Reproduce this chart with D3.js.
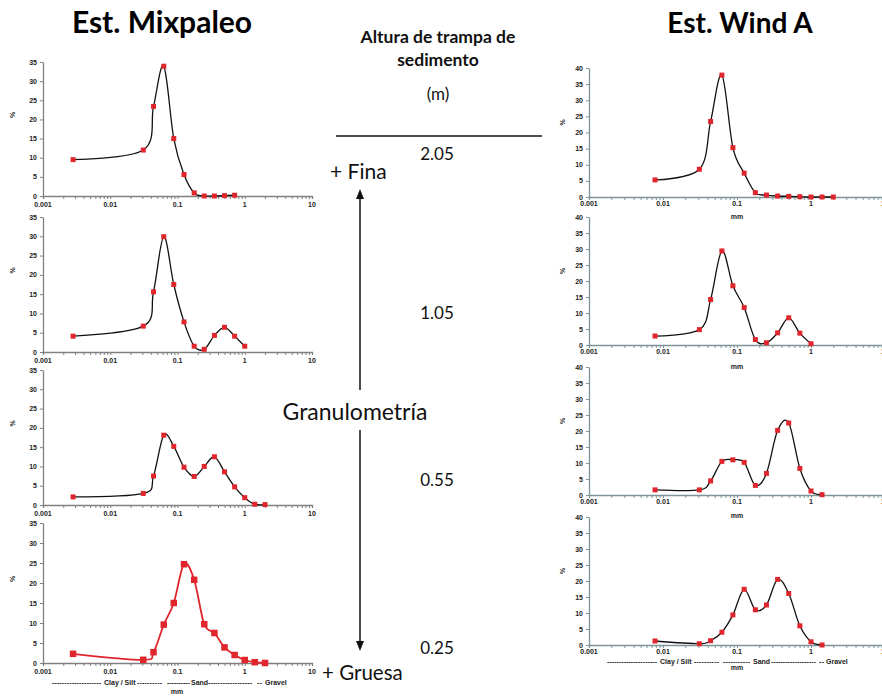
<!DOCTYPE html>
<html>
<head>
<meta charset="utf-8">
<script src="https://cdn.jsdelivr.net/npm/d3@7"></script>
<style>
  html, body { margin: 0; padding: 0; background: #fff; }
  svg { display: block; }
</style>
</head>
<body>
<svg id="chart" width="882" height="696"></svg>
<script>
// Grain-size classes (mm) used by each station
const sizesMix  = [0.0028, 0.031, 0.044, 0.0625, 0.088, 0.125, 0.177, 0.25, 0.354, 0.5, 0.707, 1, 1.41, 2];
const sizesWind = [0.0078, 0.031, 0.044, 0.0625, 0.088, 0.125, 0.177, 0.25, 0.354, 0.5, 0.707, 1, 1.41, 2];

// Percent retained per class, Est. Mixpaleo, by trap height
const mix205 = [9.5, 12.0, 23.4, 33.9, 15.0, 5.6, 0.8, 0.0, 0.0, 0.1, 0.2];
const mix105 = [4.1, 6.7, 15.6, 29.9, 17.5, 7.8, 1.5, 0.7, 4.3, 6.4, 4.1, 1.5];
const mix055 = [2.1, 3.0, 7.5, 18.1, 15.2, 9.8, 7.4, 10.0, 12.5, 8.6, 4.7, 1.9, 0.2, 0.1];
const mix025 = [2.3, 0.8, 2.7, 9.6, 15.0, 24.7, 20.8, 9.7, 7.5, 3.9, 2.0, 0.75, 0.2, 0.0];

// Percent retained per class, Est. Wind A, by trap height
const wind205 = [5.3, 8.6, 23.4, 37.8, 15.3, 7.4, 1.35, 0.6, 0.3, 0.2, 0.1, 0, 0, 0];
const wind105 = [2.8, 4.8, 14.2, 29.4, 18.5, 11.7, 1.7, 0.7, 3.8, 8.5, 3.7, 0.4];
const wind055 = [1.6, 1.6, 4.4, 10.5, 11.0, 10.2, 3.0, 6.75, 20.2, 22.5, 8.3, 1.25, 0.1];
const wind025 = [1.25, 0.4, 1.35, 4.0, 9.4, 17.4, 11.0, 12.5, 20.5, 16.1, 6.0, 1.0, 0.0];

// Axis tick labels
const xTickValues = [0.001, 0.01, 0.1, 1, 10];
const xTickLabels = ["0.001", "0.01", "0.1", "1", "10"];
const heights = ["2.05", "1.05", "0.55", "0.25"];
const classLabels = ["Clay / Silt", "Sand", "Gravel"];

const svg = d3.select("#chart");
const RED = "#e0262c";
const INK = "#222";
const tickFont = "'Liberation Sans', Arial, sans-serif";
const bigFont = "Lato, 'Open Sans', sans-serif";

function smallText(sel) {
  return sel.attr("font-family", tickFont).attr("font-size", 7)
    .attr("font-weight", "bold").attr("fill", INK);
}

// a run of dashes stretched over [x0, x1]
function dashRun(g, x0, x1, y) {
  const n = Math.max(1, Math.round((x1 - x0) / 2.4));
  smallText(g.append("text")).attr("x", x0).attr("y", y)
    .attr("textLength", x1 - x0).attr("lengthAdjust", "spacing")
    .text("-".repeat(n));
}

// class range: dashes, label, dashes
function classRange(g, y, d) {
  if (d.pre) dashRun(g, d.pre[0], d.pre[1], y);
  smallText(g.append("text")).attr("x", d.lx).attr("y", y).text(d.label);
  if (d.post) dashRun(g, d.post[0], d.post[1], y);
}

function panel(cfg) {
  const g = svg.append("g");
  const x = d3.scaleLog().domain([0.001, 10]).range([cfg.x0, cfg.x1]);
  const y = d3.scaleLinear().domain([0, cfg.yMax]).range([cfg.yBottom, cfg.yTop]);

  // minor + major ticks along the log x axis
  const minor = [];
  for (let e = -3; e < 1; e++) for (let m = 1; m <= 9; m++) minor.push(m * Math.pow(10, e));
  minor.push(10);
  const xa = d3.axisBottom(x).tickValues(minor).tickSizeOuter(0).tickSize(3).tickFormat("");
  const gx = g.append("g").attr("transform", `translate(0,${cfg.yBottom})`).call(xa);
  gx.selectAll("path, line").attr("stroke", cfg.axisColor).attr("stroke-width", 1);
  gx.select("path").attr("stroke-width", 1.3);

  smallText(g.selectAll(".xl").data(xTickValues).join("text"))
    .attr("x", d => x(d)).attr("y", cfg.yBottom + cfg.xLabelDy)
    .attr("text-anchor", "middle")
    .text((d, i) => xTickLabels[i]);

  // y axis
  const yt = d3.range(0, cfg.yMax + 0.1, 5);
  const ya = d3.axisLeft(y).tickValues(yt).tickSize(3).tickSizeOuter(0).tickFormat("");
  const gy = g.append("g").attr("transform", `translate(${cfg.x0},0)`).call(ya);
  gy.selectAll("path, line").attr("stroke", cfg.axisColor).attr("stroke-width", 1);
  gy.select("path").attr("stroke-width", 1.3);
  smallText(g.selectAll(".yl").data(yt).join("text"))
    .attr("x", cfg.x0 - 6).attr("y", d => y(d) + 2.5)
    .attr("text-anchor", "end")
    .text(d => d);

  smallText(g.append("text"))
    .attr("transform", `translate(${cfg.pctX},${(cfg.yTop + cfg.yBottom) / 2 + cfg.pctDy}) rotate(-90)`)
    .attr("text-anchor", "middle").text("%");

  const pts = cfg.values.map((v, i) => [cfg.sizes[i], v]);
  const line = d3.line().x(d => x(d[0])).y(d => y(d[1])).curve(d3.curveCardinal.tension(0));
  g.append("path").datum(pts).attr("d", line)
    .attr("fill", "none").attr("stroke", cfg.lineColor).attr("stroke-width", cfg.lineWidth);
  g.selectAll(".m").data(pts).join("rect")
    .attr("x", d => x(d[0]) - cfg.mk / 2).attr("y", d => y(d[1]) - cfg.mk / 2)
    .attr("width", cfg.mk).attr("height", cfg.mk).attr("fill", RED);

  if (cfg.mmY) {
    smallText(g.append("text")).attr("x", cfg.mmX).attr("y", cfg.mmY)
      .attr("text-anchor", "middle").text("mm");
  }
  if (cfg.classRow) {
    cfg.classRow.items.forEach(d => classRange(g, cfg.classRow.y, d));
  }
  return { x, y };
}

// Est. Mixpaleo column
const L = { x0: 43, x1: 312, yMax: 35, axisColor: "#808080", xLabelDy: 11, pctX: 15, pctDy: -14 };
panel({ ...L, yTop: 62, yBottom: 196, sizes: sizesMix, values: mix205, lineColor: "#111", lineWidth: 1.3, mk: 5 });
panel({ ...L, yTop: 217, yBottom: 352, sizes: sizesMix, values: mix105, lineColor: "#111", lineWidth: 1.3, mk: 5 });
panel({ ...L, yTop: 370, yBottom: 505, sizes: sizesMix, values: mix055, lineColor: "#111", lineWidth: 1.3, mk: 5 });
panel({ ...L, yTop: 523, yBottom: 663, sizes: sizesMix, values: mix025, lineColor: RED, lineWidth: 1.8, mk: 6.5,
  mmX: 177, mmY: 694,
  classRow: { y: 685, items: [
    { pre: [52, 101], label: classLabels[0], lx: 104, post: [137, 162] },
    { pre: [167, 190], label: classLabels[1], lx: 191, post: [208, 252] },
    { pre: [257, 262], label: classLabels[2], lx: 265 }
  ] } });

// Est. Wind A column
const R = { x0: 589, x1: 885, yMax: 40, axisColor: "#7d9599", xLabelDy: 9, pctX: 565, pctDy: -10 };
panel({ ...R, yTop: 68, yBottom: 197, sizes: sizesWind, values: wind205, lineColor: "#111", lineWidth: 1.3, mk: 5, mmX: 737, mmY: 219 });
panel({ ...R, yTop: 217, yBottom: 345, sizes: sizesWind, values: wind105, lineColor: "#111", lineWidth: 1.3, mk: 5, mmX: 737, mmY: 369 });
panel({ ...R, yTop: 367, yBottom: 495, sizes: sizesWind, values: wind055, lineColor: "#111", lineWidth: 1.3, mk: 5, mmX: 737, mmY: 518 });
panel({ ...R, yTop: 517, yBottom: 645, sizes: sizesWind, values: wind025, lineColor: "#111", lineWidth: 1.3, mk: 5,
  mmX: 737, mmY: 670,
  classRow: { y: 664, items: [
    { pre: [607, 657], label: classLabels[0], lx: 660, post: [694, 719] },
    { pre: [723, 750], label: classLabels[1], lx: 753, post: [771, 816] },
    { pre: [819, 824], label: classLabels[2], lx: 826 }
  ] } });

// Column titles
svg.append("text").attr("x", 162).attr("y", 33).attr("text-anchor", "middle")
  .attr("font-family", bigFont).attr("font-weight", "bold").attr("font-size", 30).text("Est. Mixpaleo");
svg.append("text").attr("x", 740).attr("y", 33).attr("text-anchor", "middle")
  .attr("font-family", bigFont).attr("font-weight", "bold").attr("font-size", 28).text("Est. Wind A");

// Middle annotation
const mid = svg.append("g").attr("font-family", bigFont).attr("fill", "#111");
mid.append("text").attr("x", 438).attr("y", 43).attr("text-anchor", "middle")
  .attr("font-weight", "bold").attr("font-size", 17.5).text("Altura de trampa de");
mid.append("text").attr("x", 438).attr("y", 66).attr("text-anchor", "middle")
  .attr("font-weight", "bold").attr("font-size", 17.5).text("sedimento");
mid.append("text").attr("x", 438).attr("y", 100).attr("text-anchor", "middle")
  .attr("font-size", 17).text("(m)");
mid.append("line").attr("x1", 336).attr("x2", 542).attr("y1", 136).attr("y2", 136)
  .attr("stroke", "#111").attr("stroke-width", 1.5);

const hY = [160, 319, 486, 654];
mid.selectAll(".h").data(heights).join("text")
  .attr("x", 437).attr("y", (d, i) => hY[i]).attr("text-anchor", "middle")
  .attr("font-size", 17).text(d => d);

mid.append("text").attr("x", 330).attr("y", 179).attr("font-size", 21).text("+ Fina");
mid.append("text").attr("x", 355).attr("y", 420).attr("text-anchor", "middle")
  .attr("font-size", 23).text("Granulometría");
mid.append("text").attr("x", 322).attr("y", 680).attr("font-size", 20.5).text("+ Gruesa");

// Arrows
mid.append("line").attr("x1", 360).attr("x2", 360).attr("y1", 390).attr("y2", 198)
  .attr("stroke", "#111").attr("stroke-width", 1.5);
mid.append("path").attr("d", "M356,199 L364,199 L360,189 Z").attr("fill", "#111");
mid.append("line").attr("x1", 360).attr("x2", 360).attr("y1", 430).attr("y2", 642)
  .attr("stroke", "#111").attr("stroke-width", 1.5);
mid.append("path").attr("d", "M356,641 L364,641 L360,651 Z").attr("fill", "#111");
</script>
</body>
</html>
